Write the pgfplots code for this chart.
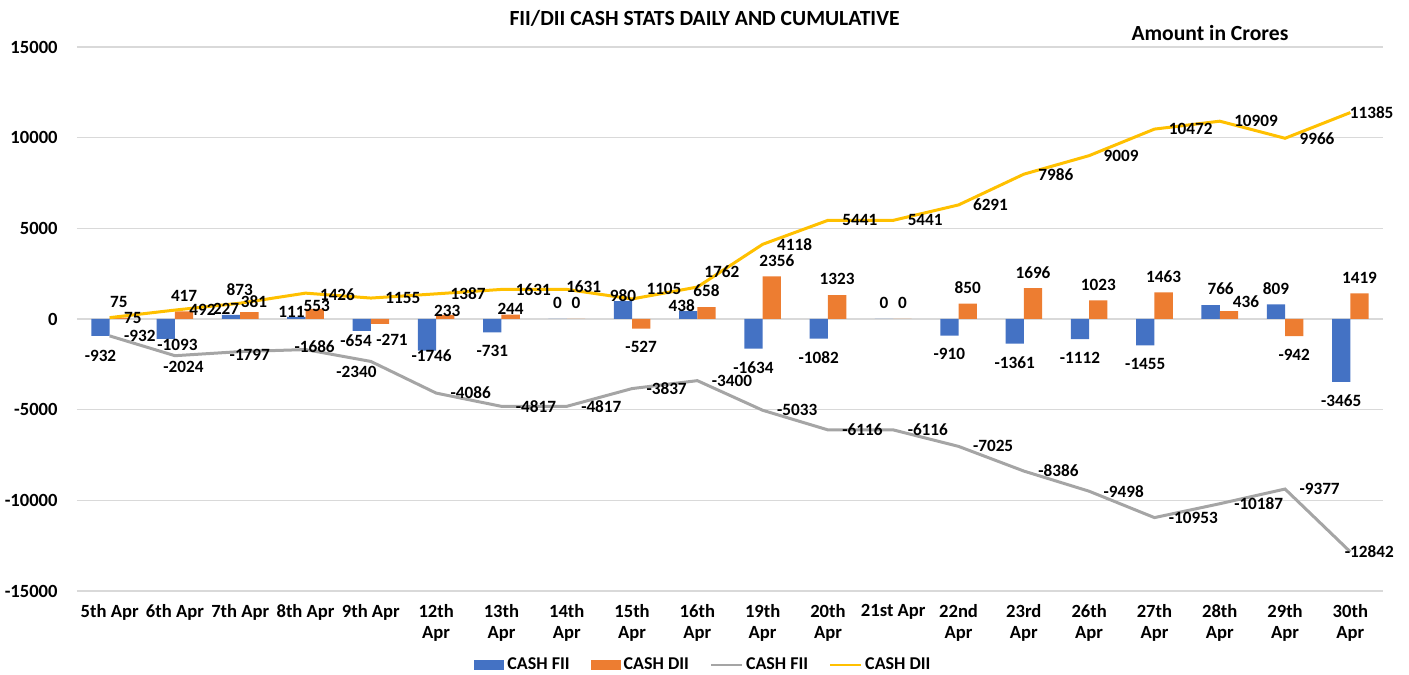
\documentclass[border=0pt]{standalone}
\usepackage{pgfplots}
\pgfplotsset{compat=1.18}
\usepackage{pgfplotstable}
\usepackage{fontspec}
\setmainfont{Carlito}
\definecolor{cfii}{HTML}{4472C4}
\definecolor{cdii}{HTML}{ED7D31}
\definecolor{lfii}{HTML}{A5A5A5}
\definecolor{ldii}{HTML}{FFC000}
\definecolor{gridc}{HTML}{D9D9D9}
% values
\pgfplotstableread{
x fii dii cfii cdii
0 -932 75 -932 75
1 -1093 417 -2024 492
2 227 381 -1797 873
3 111 553 -1686 1426
4 -654 -271 -2340 1155
5 -1746 233 -4086 1387
6 -731 244 -4817 1631
7 0 0 -4817 1631
8 980 -527 -3837 1105
9 438 658 -3400 1762
10 -1634 2356 -5033 4118
11 -1082 1323 -6116 5441
12 0 0 -6116 5441
13 -910 850 -7025 6291
14 -1361 1696 -8386 7986
15 -1112 1023 -9498 9009
16 -1455 1463 -10953 10472
17 766 436 -10187 10909
18 809 -942 -9377 9966
19 -3465 1419 -12842 11385
}\data
% label offsets (pt)
\pgfplotstableread{
x fdx fdy ddx ddy cfdx cfdy cddx cddy
0 0 -2 0 0 6.5 0 6.5 0
1 5.85 4.9 0 0 -6.5 -5.5 6.5 0
2 -2.5 -5 2.3 -2.6 -6 -1.7 -7.5 7
3 -2.5 -5.3 1 -6.5 -6.25 1.5 6.5 -1
4 -2.8 3 6 0 -18 -5 6.5 0
5 2.3 5.3 1 -6 6.5 0 6.5 0
6 0 -1.5 0 -5 6.5 0 6.5 0
7 0 0 0 0 6.5 0 -1 1.3
8 0 -5.2 0 -1.5 6.5 0 6.5 4.8
9 -3.2 -5.3 0 0 6.5 0 2.8 7.6
10 0 -1.5 2.5 0 6.5 0 6.5 0
11 0 -1.5 0 0 6.5 0 6.5 0
12 0 0 0 0 6.5 0 6.5 0
13 0 -1.5 0 0 6.5 0 6.5 0
14 0 -1.5 0 0 6.5 0 6.5 0
15 0 -1.5 0 0 6.5 0 6.5 0
16 0 -1.5 0 0 6.5 0 6.5 0
17 5 0 8.5 -3.5 6.5 0 6.5 0
18 0 0 0 -1.5 6.5 0 6.5 0
19 0 -1.5 0 0 -3.5 0 -1 0
}\offs
\pgfplotstablecreatecol[copy column from table={\offs}{fdx}]{fdx}{\data}
\pgfplotstablecreatecol[copy column from table={\offs}{fdy}]{fdy}{\data}
\pgfplotstablecreatecol[copy column from table={\offs}{ddx}]{ddx}{\data}
\pgfplotstablecreatecol[copy column from table={\offs}{ddy}]{ddy}{\data}
\pgfplotstablecreatecol[copy column from table={\offs}{cfdx}]{cfdx}{\data}
\pgfplotstablecreatecol[copy column from table={\offs}{cfdy}]{cfdy}{\data}
\pgfplotstablecreatecol[copy column from table={\offs}{cddx}]{cddx}{\data}
\pgfplotstablecreatecol[copy column from table={\offs}{cddy}]{cddy}{\data}
\begin{document}
\begin{tikzpicture}[font=\bfseries]
\begin{axis}[
  scale only axis, width=653pt, height=272pt,
  xmin=-0.5, xmax=19.5, ymin=-15000, ymax=15000,
  scaled y ticks=false,
  ytick={-15000,-10000,-5000,0,5000,10000,15000},
  yticklabels={-15000,-10000,-5000,0,5000,10000,15000},
  xtick={0,...,19},
  xticklabels={{5th Apr},{6th Apr},{7th Apr},{8th Apr},{9th Apr},{12th\\Apr},{13th\\Apr},{14th\\Apr},{15th\\Apr},{16th\\Apr},{19th\\Apr},{20th\\Apr},{21st Apr},{22nd\\Apr},{23rd\\Apr},{26th\\Apr},{27th\\Apr},{28th\\Apr},{29th\\Apr},{30th\\Apr}},
  axis line style={draw=none}, major tick length=0pt,
  ymajorgrids, grid style={draw=gridc, line width=0.6pt},
  tick label style={font=\fontsize{9.3}{10.5}\selectfont\bfseries},
  yticklabel style={anchor=east, inner sep=0pt, xshift=-9.5pt},
  xticklabel style={anchor=north, inner sep=0pt, yshift=-6.5pt, align=center},
  clip=false,
  /pgf/number format/assume math mode=true,
  /pgf/number format/1000 sep={},
  title={FII/DII CASH STATS DAILY AND CUMULATIVE},
  title style={font=\fontsize{10.8}{12}\selectfont\bfseries, at={(0.5,1)}, anchor=center, yshift=8.5pt, xshift=-12.75pt},
  legend columns=4,
  legend style={at={(0.5,0)}, anchor=center, yshift=-37pt, xshift=-13pt, draw=none, fill=none,
    font=\fontsize{9}{10}\selectfont\bfseries,
    nodes={inner xsep=1.5pt},
    /tikz/every odd column/.append style={column sep=0pt},
    /tikz/every even column/.append style={column sep=9pt}},
]
\addplot[ybar, bar width=9.15pt, bar shift=-4.575pt, fill=cfii, draw=none,
  visualization depends on={\thisrow{fdx}\as\dx},
  visualization depends on={\thisrow{fdy}\as\dy},
  nodes near coords, nodes near coords align={vertical},
  every node near coord/.append style={font=\fontsize{8.6}{10}\selectfont\bfseries, inner xsep=0pt, inner ysep=4.8pt, xshift=-4.575pt, xshift=\dx pt, yshift=\dy pt},
  legend image code/.code={\fill[cfii] (0pt,-2.6pt) rectangle (15pt,2.6pt);}]
  table[x=x, y=fii] {\data};
\addlegendentry{CASH FII}
\addplot[ybar, bar width=9.15pt, bar shift=4.575pt, fill=cdii, draw=none,
  visualization depends on={\thisrow{ddx}\as\dx},
  visualization depends on={\thisrow{ddy}\as\dy},
  nodes near coords, nodes near coords align={vertical},
  every node near coord/.append style={font=\fontsize{8.6}{10}\selectfont\bfseries, inner xsep=0pt, inner ysep=4.8pt, xshift=4.575pt, xshift=\dx pt, yshift=\dy pt},
  legend image code/.code={\fill[cdii] (0pt,-2.6pt) rectangle (15pt,2.6pt);}]
  table[x=x, y=dii] {\data};
\addlegendentry{CASH DII}
\addplot[lfii, line width=1.5pt, mark=none, sharp plot,
  visualization depends on={\thisrow{cfdx}\as\dx},
  visualization depends on={\thisrow{cfdy}\as\dy},
  nodes near coords,
  every node near coord/.append style={text=black, font=\fontsize{8.6}{10}\selectfont\bfseries, anchor=west, inner sep=0pt, xshift=\dx pt, yshift=\dy pt},
  legend image code/.code={\draw[lfii, line width=1pt] (0pt,0pt) -- (15.5pt,0pt);}]
  table[x=x, y=cfii] {\data};
\addlegendentry{CASH FII}
\addplot[ldii, line width=1.5pt, mark=none, sharp plot,
  visualization depends on={\thisrow{cddx}\as\dx},
  visualization depends on={\thisrow{cddy}\as\dy},
  nodes near coords,
  every node near coord/.append style={text=black, font=\fontsize{8.6}{10}\selectfont\bfseries, anchor=west, inner sep=0pt, xshift=\dx pt, yshift=\dy pt},
  legend image code/.code={\draw[ldii, line width=1pt] (0pt,0pt) -- (15.5pt,0pt);}]
  table[x=x, y=cdii] {\data};
\addlegendentry{CASH DII}
\node[font=\fontsize{10.8}{12}\selectfont\bfseries] at ([yshift=7pt]axis description cs:0.8675,1) {Amount in Crores};
\end{axis}
\pgfresetboundingbox
\path ([xshift=-38.5pt,yshift=-42pt]current axis.south west) rectangle ([xshift=13pt,yshift=23.5pt]current axis.north east);
\end{tikzpicture}
\end{document}
